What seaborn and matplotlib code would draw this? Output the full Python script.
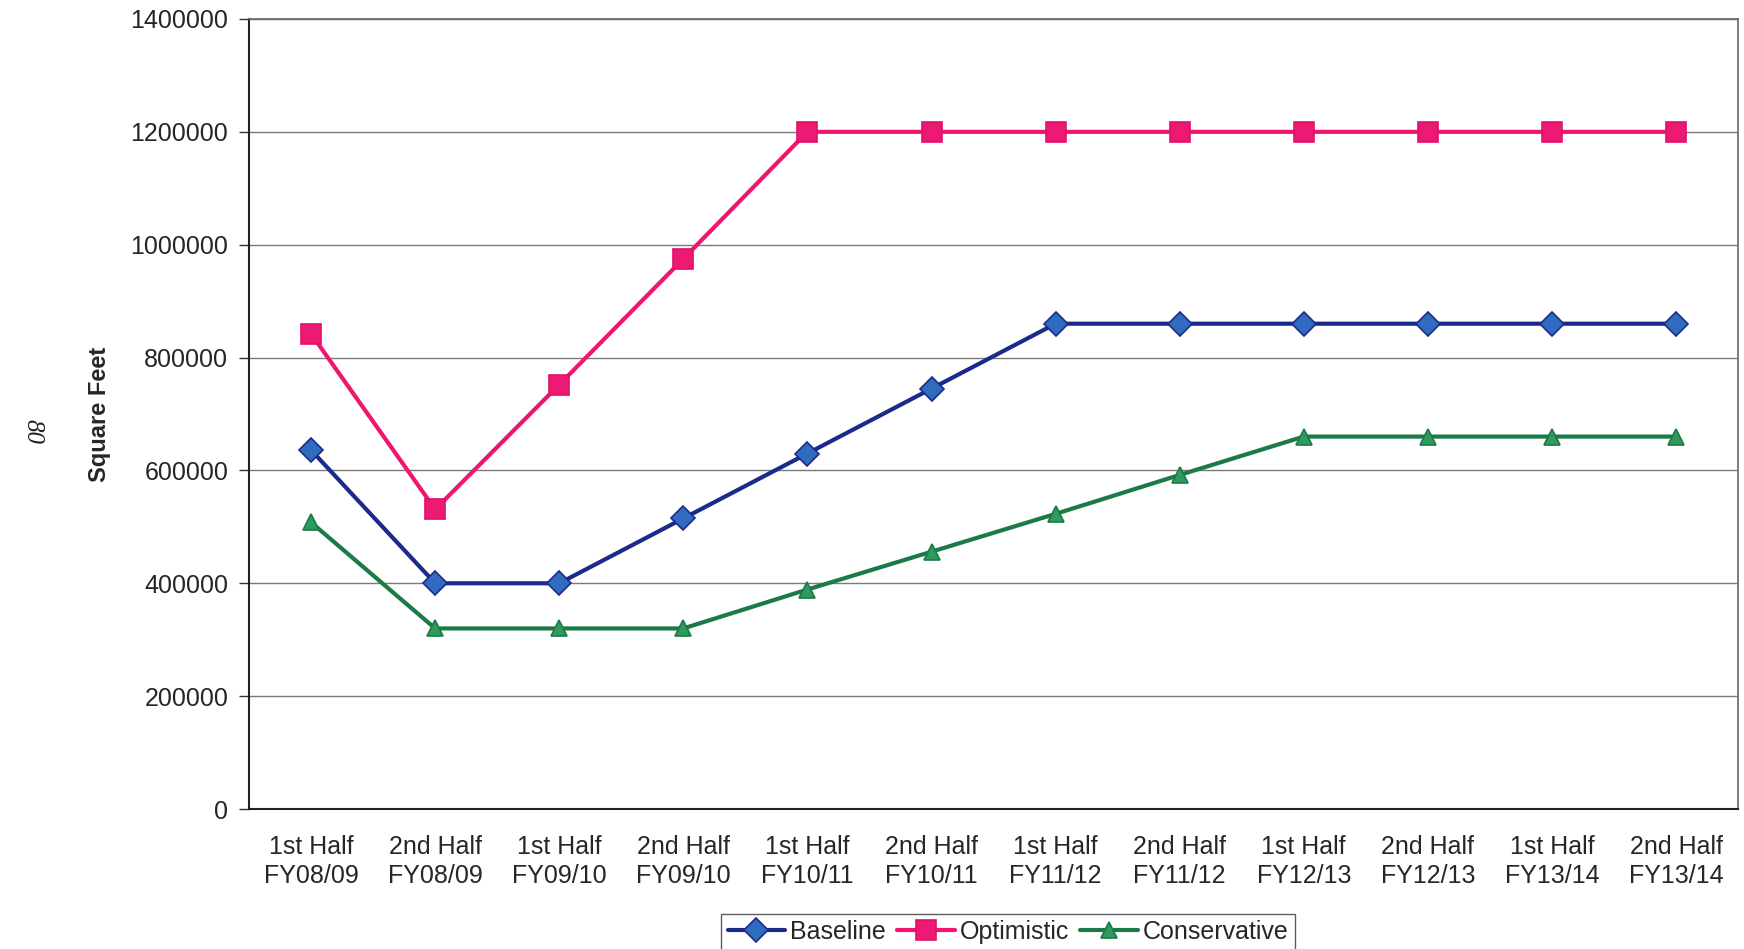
import seaborn as sns
import matplotlib.pyplot as plt
import pandas as pd
from matplotlib.lines import Line2D

# Values (square feet per half year)
periods = ["1st Half\nFY08/09", "2nd Half\nFY08/09", "1st Half\nFY09/10", "2nd Half\nFY09/10",
           "1st Half\nFY10/11", "2nd Half\nFY10/11", "1st Half\nFY11/12", "2nd Half\nFY11/12",
           "1st Half\nFY12/13", "2nd Half\nFY12/13", "1st Half\nFY13/14", "2nd Half\nFY13/14"]
baseline = [636000, 400000, 400000, 515000, 630000, 745000, 860000, 860000, 860000, 860000, 860000, 860000]
optimistic = [842000, 531000, 752000, 975000, 1200000, 1200000, 1200000, 1200000, 1200000, 1200000, 1200000, 1200000]
conservative = [508000, 320000, 320000, 320000, 389000, 456000, 523000, 592000, 660000, 660000, 660000, 660000]
y_ticks = [0, 200000, 400000, 600000, 800000, 1000000, 1200000, 1400000]

df = pd.DataFrame({"idx": range(len(periods)), "Baseline": baseline,
                   "Optimistic": optimistic, "Conservative": conservative})

sns.set_style("white")
plt.rcParams["font.family"] = ["Liberation Sans", "DejaVu Sans"]

fig = plt.figure(figsize=(17.44, 9.49), dpi=100)
ax = fig.add_axes([0.1428, 0.1475, 0.8538, 0.8325])

# line colour, marker face, marker edge, marker, size
styles = {
    "Baseline": ("#1c2a8c", "#2f6cc0", "#1c2a8c", "D", 12),
    "Optimistic": ("#f0166e", "#ec1a72", "#e0106a", "s", 14),
    "Conservative": ("#1b7a45", "#2f9a60", "#1b7a45", "^", 11),
}

handles = []
for name, (lc, mf, me, mk, ms) in styles.items():
    sns.lineplot(data=df, x="idx", y=name, ax=ax, color=lc, linewidth=3,
                 marker=mk, markersize=ms, markerfacecolor=mf, markeredgecolor=me,
                 markeredgewidth=1.2, zorder=3)
    handles.append(Line2D([], [], color=lc, linewidth=3, marker=mk, markersize=ms,
                          markerfacecolor=mf, markeredgecolor=me, markeredgewidth=1.2))

ax.set_xlim(-0.5, len(periods) - 0.5)
ax.set_ylim(0, 1400000)
ax.set_yticks(y_ticks)
ax.set_yticklabels([str(v) for v in y_ticks], fontsize=18)
ax.yaxis.grid(True, color="#7a7a7a", linewidth=1)
ax.set_axisbelow(True)

# category labels centred, tick marks on the boundaries
ax.set_xticks(range(len(periods)))
ax.set_xticklabels(periods, fontsize=18, linespacing=1.25)
ax.set_xticks([i - 0.5 for i in range(len(periods) + 1)], minor=True)
ax.tick_params(axis="x", which="major", length=0, pad=19)
ax.tick_params(axis="x", which="minor", length=7, width=1, color="#333333", direction="out")
ax.tick_params(axis="y", length=7, width=1, color="#333333", direction="out", pad=8, left=True)

for side in ["left", "bottom"]:
    ax.spines[side].set_color("#222222")
    ax.spines[side].set_linewidth(1.5)
for side in ["top", "right"]:
    ax.spines[side].set_color("#666666")
    ax.spines[side].set_linewidth(1.2)

ax.set_xlabel("")
ax.set_ylabel("Square Feet", fontsize=17, fontweight="bold", labelpad=14)

# page number from the scanned report
fig.text(0.0185, 0.545, "80", rotation=270, fontsize=18, style="italic",
         family=["Liberation Serif", "DejaVu Serif"], ha="center", va="center", color="#222222")

leg = fig.legend(handles, list(styles.keys()), loc="center", bbox_to_anchor=(0.578, 0.018),
                 ncol=3, fontsize=18, frameon=True, fancybox=False, handlelength=2.3,
                 handletextpad=0.2, columnspacing=0.45, borderpad=0.25, borderaxespad=0)
leg.get_frame().set_edgecolor("#333333")
leg.get_frame().set_linewidth(1)

fig.savefig("out.png", dpi=100)
